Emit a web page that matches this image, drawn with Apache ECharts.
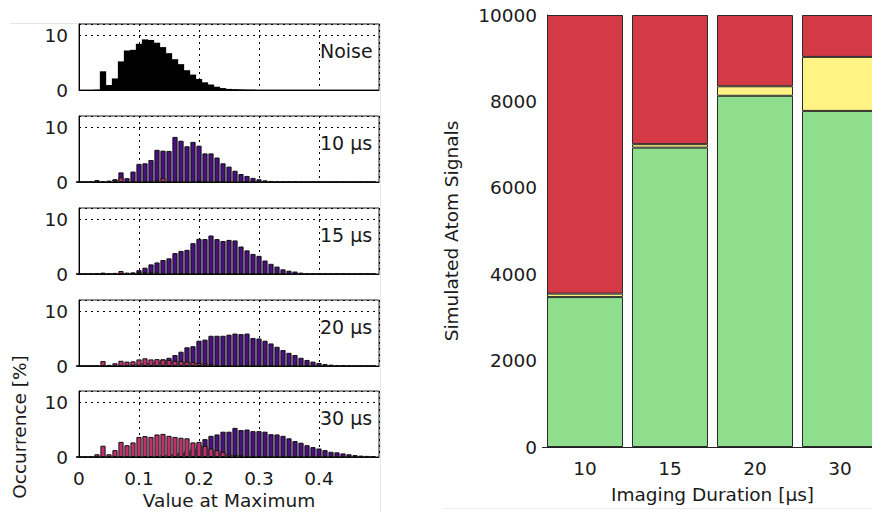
<!DOCTYPE html>
<html>
<head>
<meta charset="utf-8">
<script src="https://cdn.jsdelivr.net/npm/echarts@6.0.0/dist/echarts.min.js"></script>
<style>
html,body{margin:0;padding:0;background:#fff;overflow:hidden;width:872px;height:517px;}
#chart{width:890px;height:517px;}
</style>
</head>
<body>
<div id="chart"></div>
<script>
// ---------- Data ----------
const bins = [0.00,0.01,0.02,0.03,0.04,0.05,0.06,0.07,0.08,0.09,
              0.10,0.11,0.12,0.13,0.14,0.15,0.16,0.17,0.18,0.19,
              0.20,0.21,0.22,0.23,0.24,0.25,0.26,0.27,0.28,0.29,
              0.30,0.31,0.32,0.33,0.34,0.35,0.36,0.37,0.38,0.39,
              0.40,0.41,0.42,0.43,0.44,0.45,0.46,0.47,0.48,0.49];

const panelLabels = ['Noise', '10 µs', '15 µs', '20 µs', '30 µs'];

const noise = [0,0,0,0.05,3.4,0.9,2.1,5.2,7.2,7.3,
               8.4,9.2,9.1,8.6,7.8,6.7,5.6,4.7,3.6,2.8,
               2.0,1.4,1.0,0.6,0.35,0.2,0.15,0.1,0.06,0.04,
               0.02,0,0,0,0,0,0,0,0,0,
               0,0,0,0,0,0,0,0,0,0];

const purple10 = [0,0,0,0.35,0.1,0.25,0.5,1.75,0.7,1.9,
                  3.3,3.4,4.0,5.85,5.7,5.65,8.2,7.5,6.5,7.3,
                  6.6,5.2,5.2,4.45,3.4,2.8,2.05,1.45,1.1,0.75,
                  0.5,0.3,0.2,0.08,0.05,0.05,0.03,0.02,0,0,
                  0,0,0,0,0,0,0,0,0,0];
const pink10 = [0,0,0,0.1,0,0.1,0.4,0.85,0.1,0,
                0,0,0.1,0.3,0.7,0.1,0,0,0,0,
                0.3,0,0,0,0,0,0,0,0,0,
                0,0,0,0,0,0,0,0,0,0,
                0,0,0,0,0,0,0,0,0,0];

const purple15 = [0,0,0.05,0.1,0.25,0.05,0.2,0.3,0.25,0.3,
                  0.7,1.15,1.75,2.1,2.55,2.85,3.8,4.2,4.4,5.6,
                  6.4,6.35,7.0,6.35,6.0,6.2,6.1,5.0,4.3,3.65,
                  3.3,2.45,1.85,1.35,0.85,0.6,0.45,0.25,0.15,0.1,
                  0.05,0.05,0.03,0,0,0,0,0,0,0];
const pink15 = [0,0,0,0,0.1,0,0,0.55,0,0,
                0.3,0.3,0.3,0.25,0.15,0,0,0,0,0,
                0,0,0,0,0,0,0,0,0,0,
                0,0,0,0,0,0,0,0,0,0,
                0,0,0,0,0,0,0,0,0,0];

const purple20 = [0,0,0,0,0.2,0.1,0.2,0.3,0.3,0.4,
                  0.5,0.6,0.7,0.9,1.2,1.5,2.0,2.6,3.4,3.6,
                  4.6,4.8,5.5,5.5,5.5,5.7,5.9,5.8,5.9,5.1,
                  5.0,4.6,4.1,3.5,2.9,2.4,2.0,1.5,1.1,0.8,
                  0.55,0.35,0.25,0.15,0.1,0.05,0,0,0,0];
const pink20 = [0,0,0,0,0.9,0.2,0.5,0.95,0.8,0.85,
                1.2,1.4,1.2,1.25,1.2,1.1,0.95,0.9,0.8,0.7,
                0.55,0.45,0.3,0.2,0.1,0.05,0,0,0,0,
                0,0,0,0,0,0,0,0,0,0,
                0,0,0,0,0,0,0,0,0,0];

const purple30 = [0,0,0,0,0,0,0,0,0,0.05,
                  0.1,0.15,0.2,0.3,0.4,0.5,0.7,0.9,1.1,1.5,
                  2.2,3.25,3.85,4.1,4.6,4.6,5.3,4.9,5.0,4.7,
                  4.7,4.6,4.15,4.1,3.85,3.4,2.9,2.6,2.15,1.8,
                  1.55,1.25,0.95,0.85,0.65,0.5,0.35,0.25,0.2,0.1];
const pink30 = [0,0,0,0.5,2.05,0.5,1.25,2.75,2.15,2.65,
                3.65,3.8,3.65,4.1,4.2,3.85,3.65,3.5,3.4,2.65,
                2.75,2.05,1.55,1.25,0.95,0.45,0.4,0.3,0.1,0.05,
                0,0,0,0,0,0,0,0,0,0,
                0,0,0,0,0,0,0,0,0,0];

const durations = ['10', '15', '20', '30'];
const greenVals  = [3470, 6930, 8130, 7780];
const yellowVals = [80, 80, 220, 1250];
const redVals    = [6450, 2990, 1650, 970];

// ---------- Styles ----------
const FONT = 'DejaVu Sans';
const FS = 18.5;
const TXT = '#1a1a1a';
const PURPLE = '#4a0f80';
const PINK = '#c0306e';
const GREEN = '#8ede8e';
const YELLOW = '#fff383';
const RED = '#d43a46';

const panelTops = [24, 116, 208, 300, 391];
const panelH = 66;

const grids = [], xAxes = [], yAxes = [], series = [], graphics = [];

panelTops.forEach((top, i) => {
  grids.push({left: 79, top: top, width: 300, height: panelH,
               show: true, borderColor: '#222', borderWidth: 1, backgroundColor: 'transparent'});
  xAxes.push({gridIndex: i, type: 'value', min: 0, max: 0.5, interval: 0.1,
    axisLine: {show: true, lineStyle: {color: '#000', width: 1}},
    axisTick: {show: false},
    axisLabel: {show: i === 4, showMaxLabel: false, margin: 12,
                fontFamily: FONT, fontSize: FS, color: TXT},
    splitLine: {show: true, lineStyle: {type: [2, 4], color: '#000', width: 1}},
    name: i === 4 ? 'Value at Maximum' : '',
    nameLocation: 'middle', nameGap: 34,
    nameTextStyle: {fontFamily: FONT, fontSize: FS, color: TXT}
  });
  yAxes.push({gridIndex: i, type: 'value', min: 0, max: 12, interval: 10,
    axisLine: {show: true, lineStyle: {color: '#000', width: 1}},
    axisTick: {show: false},
    axisLabel: {showMaxLabel: false, margin: 11, fontFamily: FONT, fontSize: FS, color: TXT},
    splitLine: {show: true, lineStyle: {type: [2, 4], color: '#000', width: 1}}
  });
  graphics.push({type: 'text', left: 320, top: top + 28 - 11,
    style: {text: panelLabels[i], font: '19px "' + FONT + '"', fill: TXT}});
});

function pairs(vals) { return bins.map((b, j) => [b, vals[j]]); }

series.push({type: 'bar', xAxisIndex: 0, yAxisIndex: 0, data: pairs(noise),
  barWidth: 6.3, itemStyle: {color: '#000'}, silent: true});

const hist = [[purple10, pink10], [purple15, pink15], [purple20, pink20], [purple30, pink30]];
hist.forEach((pair, idx) => {
  const gi = idx + 1;
  series.push({type: 'bar', xAxisIndex: gi, yAxisIndex: gi, data: pairs(pair[0]),
    barWidth: 5.2, itemStyle: {color: PURPLE, borderColor: '#111', borderWidth: 1}});
  series.push({type: 'bar', xAxisIndex: gi, yAxisIndex: gi, data: pairs(pair[1]),
    barWidth: 5.2, barGap: '-100%',
    itemStyle: {color: PINK, borderColor: '#111', borderWidth: 1}});
});

// right chart
grids.push({left: 542.5, width: 340, top: 15, height: 432});
xAxes.push({gridIndex: 5, type: 'category', data: durations,
  axisLine: {show: true, lineStyle: {color: '#222', width: 1}},
  axisTick: {show: false},
  axisLabel: {margin: 12, fontFamily: FONT, fontSize: FS, color: TXT},
  name: 'Imaging Duration [µs]', nameLocation: 'middle', nameGap: 38,
  nameTextStyle: {fontFamily: FONT, fontSize: FS, color: TXT}
});
yAxes.push({gridIndex: 5, type: 'value', min: 0, max: 10000, interval: 2000, offset: -4.5,
  axisLine: {show: true, lineStyle: {color: '#222', width: 1}},
  axisTick: {show: false},
  axisLabel: {margin: 10, fontFamily: FONT, fontSize: FS, color: TXT,
              formatter: v => String(v)},
  splitLine: {show: false},
  name: 'Simulated Atom Signals', nameLocation: 'middle', nameGap: 86,
  nameTextStyle: {fontFamily: FONT, fontSize: FS, color: TXT}
});
[[greenVals, GREEN], [yellowVals, YELLOW], [redVals, RED]].forEach(([vals, col]) => {
  series.push({type: 'bar', xAxisIndex: 5, yAxisIndex: 5, stack: 'total', data: vals,
    barWidth: 76, itemStyle: {color: col, borderColor: '#2a2a2a', borderWidth: 1}});
});

// left y title and faint figure borders
graphics.push({type: 'text', x: 19, y: 427, rotation: Math.PI / 2,
  style: {text: 'Occurrence [%]', font: FS + 'px "' + FONT + '"', fill: TXT,
          align: 'center', verticalAlign: 'middle'}});
graphics.push({type: 'line', shape: {x1: 10, y1: 23.5, x2: 380, y2: 23.5},
  style: {stroke: '#e8e8e8', lineWidth: 1}, z: -1});
graphics.push({type: 'line', shape: {x1: 380.5, y1: 23, x2: 380.5, y2: 512},
  style: {stroke: '#e8e8e8', lineWidth: 1}, z: -1});
graphics.push({type: 'line', shape: {x1: 442, y1: 508.5, x2: 890, y2: 508.5},
  style: {stroke: '#ededed', lineWidth: 1}, z: -1});

const chart = echarts.init(document.getElementById('chart'), null, {renderer: 'svg'});
chart.setOption({
  animation: false,
  backgroundColor: '#fff',
  textStyle: {fontFamily: FONT},
  grid: grids, xAxis: xAxes, yAxis: yAxes, series: series, graphic: graphics
});
</script>
</body>
</html>
